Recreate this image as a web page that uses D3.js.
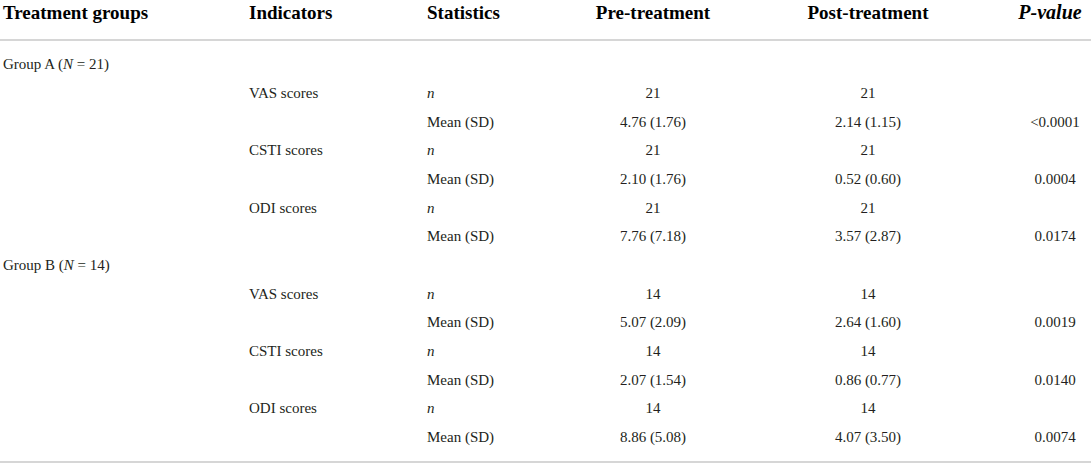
<!DOCTYPE html>
<html>
<head>
<meta charset="utf-8">
<script src="https://cdn.jsdelivr.net/npm/d3@7"></script>
<style>
  html, body { margin: 0; padding: 0; background: #fff; }
  svg { display: block; }
</style>
</head>
<body>
<svg id="chart" width="1091" height="466"></svg>
<script>
// ---- data ----
const headers = ["Treatment groups", "Indicators", "Statistics", "Pre-treatment", "Post-treatment", "P-value"];
const groups = ["Group A", "Group B"];
const groupN = [21, 14];
const indicators = ["VAS scores", "CSTI scores", "ODI scores"];
const statLabels = ["n", "Mean (SD)"];
const preN = [21, 21, 21, 14, 14, 14];
const postN = [21, 21, 21, 14, 14, 14];
const preMean = [4.76, 2.10, 7.76, 5.07, 2.07, 8.86];
const preSD = [1.76, 1.76, 7.18, 2.09, 1.54, 5.08];
const postMean = [2.14, 0.52, 3.57, 2.64, 0.86, 4.07];
const postSD = [1.15, 0.60, 2.87, 1.60, 0.77, 3.50];
const pValues = ["<0.0001", "0.0004", "0.0174", "0.0019", "0.0140", "0.0074"];

// ---- build rows ----
const f2 = d3.format(".2f");
const rows = [];
groups.forEach((g, gi) => {
  rows.push({ type: "group", group: g, N: groupN[gi] });
  indicators.forEach((ind, ii) => {
    const k = gi * indicators.length + ii;
    rows.push({ type: "n", indicator: ind, pre: String(preN[k]), post: String(postN[k]), p: "" });
    rows.push({ type: "mean", indicator: "", pre: `${f2(preMean[k])} (${f2(preSD[k])})`,
                post: `${f2(postMean[k])} (${f2(postSD[k])})`, p: pValues[k] });
  });
});

const svg = d3.select("#chart");
const W = 1091;
const y = d3.scaleLinear().domain([0, rows.length - 1]).range([64.3, 437]);
const col = { group: 3, ind: 249, stat: 427, pre: 653, post: 868, p: 1055 };
const hdrX = [3, 249, 427, 653, 868, 1050];
const hdrAnchor = ["start", "start", "start", "middle", "middle", "middle"];
const font = "'Liberation Serif', 'Times New Roman', serif";
const textColor = "#231f20";

// header
svg.selectAll("text.hdr").data(headers).join("text")
  .attr("class", "hdr")
  .attr("x", (d, i) => hdrX[i])
  .attr("y", 18.5)
  .attr("text-anchor", (d, i) => hdrAnchor[i])
  .attr("font-family", font)
  .attr("font-size", (d, i) => i === 5 ? 20 : 19)
  .attr("font-weight", "bold")
  .attr("font-style", (d, i) => i === 5 ? "italic" : "normal")
  .attr("fill", "#000")
  .text(d => d);

// rules
svg.append("line").attr("x1", 0).attr("x2", W).attr("y1", 40).attr("y2", 40)
  .attr("stroke", "#c8c8c8").attr("stroke-width", 1.6);
svg.append("line").attr("x1", 0).attr("x2", W).attr("y1", 462).attr("y2", 462)
  .attr("stroke", "#c8c8c8").attr("stroke-width", 1.6);

const body = svg.append("g")
  .attr("font-family", font)
  .attr("font-size", 15)
  .attr("fill", textColor);

const rowG = body.selectAll("g.row").data(rows).join("g")
  .attr("class", "row")
  .attr("transform", (d, i) => `translate(0,${y(i) + 5})`);

// group labels
rowG.filter(d => d.type === "group").each(function (d) {
  const t = d3.select(this).append("text").attr("x", col.group);
  t.append("tspan").text(d.group + " (");
  t.append("tspan").attr("font-style", "italic").text("N");
  t.append("tspan").text(" = " + d.N + ")");
});

const data = rowG.filter(d => d.type !== "group");
data.append("text").attr("x", col.ind).text(d => d.indicator);
data.append("text").attr("x", col.stat)
  .attr("font-style", d => d.type === "n" ? "italic" : "normal")
  .text(d => d.type === "n" ? statLabels[0] : statLabels[1]);
data.append("text").attr("x", col.pre).attr("text-anchor", "middle").text(d => d.pre);
data.append("text").attr("x", col.post).attr("text-anchor", "middle").text(d => d.post);
data.append("text").attr("x", col.p).attr("text-anchor", "middle").text(d => d.p);
</script>
</body>
</html>
